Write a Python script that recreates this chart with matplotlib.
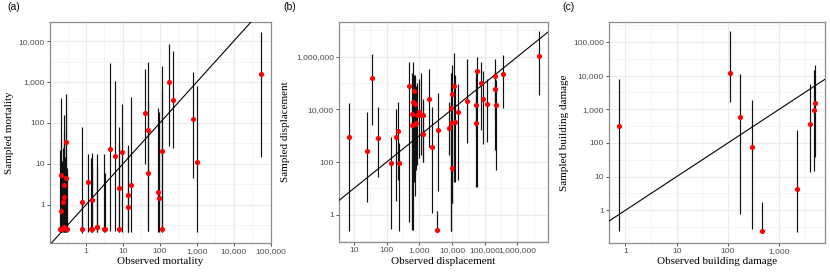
import numpy as np
import matplotlib
matplotlib.use("Agg")
import matplotlib.pyplot as plt
from matplotlib.ticker import FuncFormatter, NullFormatter

# ---------------- Panel (a): mortality ----------------
mort_obs = [0.29, 0.207, 0.28, 0.26, 0.255, 0.245, 0.215, 0.20, 0.23, 0.25, 0.30, 0.27,
            0.76, 0.77, 1.11, 1.48, 1.35, 1.42, 1.95, 2.0, 3.0, 3.3, 4.5, 6.2, 7.8, 7.9,
            9.4, 13.6, 13.9, 17, 39, 48, 49, 90, 94, 111, 112, 180, 220, 790, 1000, 55000]
mort_med = [35, 5.4, 4.6, 3.0, 1.57, 1.18, 0.70, 0.26, 0.26, 0.28, 0.25, 0.27,
            1.18, 0.26, 3.5, 1.3, 0.26, 0.26, 0.28, 0.28, 0.26, 0.26, 23, 15.8, 0.26, 2.6,
            20, 1.73, 0.89, 3.0, 178, 67, 5.9, 2.1, 1.43, 0.25, 20.5, 1020, 363, 126, 11, 1570]
mort_lo = [0.22, 0.22, 0.22, 0.22, 0.22, 0.22, 0.22, 0.22, 0.22, 0.22, 0.22, 0.22,
           0.2, 0.22, 0.22, 0.22, 0.22, 0.22, 0.22, 0.22, 0.22, 0.22, 0.23, 0.23, 0.22, 0.22,
           0.22, 0.22, 0.22, 0.22, 10, 0.23, 0.23, 0.22, 0.22, 0.22, 0.22, 27, 25, 4.4, 0.22, 14.5]
mort_hi = [510, 400, 170, 155, 60, 25, 40, 22, 12, 30, 8, 15,
           81, 1.3, 17, 18, 13.6, 9, 17, 8.8, 17, 6, 2880, 1070, 78, 30,
           290, 29, 25, 440, 2050, 3150, 345, 230, 180, 600, 2450, 8300, 5700, 1780, 800, 17000]

# ---------------- Panel (b): displacement ----------------
disp_obs = [6.9, 25, 36, 53, 136, 197, 224, 245,
            480, 670, 650, 760, 600, 960, 830, 1100, 1320, 815, 600, 720, 1950, 1320,
            3700, 2450, 3560,
            11200, 10000, 9600, 15200, 9600, 12000, 8100, 10000,
            29500, 58000, 55000, 55000, 78000, 89000, 118000, 204000, 208000, 230000,
            357000, 4500000]
disp_med = [870, 263, 152000, 800, 90, 900, 1480, 90,
            77000, 51000, 19500, 15500, 6600, 8200, 6100, 6100, 6100, 3100, 2600, 2700, 25500, 1200,
            1660, 363, 0.27,
            77000, 38000, 11000, 7900, 3100, 3300, 2000, 58,
            20400, 290000, 15000, 3100, 98000, 26000, 16500, 185000, 61000, 15000,
            220000, 1120000]
disp_lo = [0.25, 3.0, 2600, 28, 0.28, 3.4, 21, 0.25,
           0.54, 18, 0.26, 32, 0.26, 138, 77, 185, 102, 50, 0.3, 5, 380, 100,
           8, 1.2, 0.25,
           18, 2.9, 0.25, 21, 0.25, 18, 185, 2.9,
           540, 11.5, 900, 11.5, 1650, 490, 590, 4000, 300, 50,
           11000, 35000]
disp_hi = [17000, 7900, 1260000, 12000, 870, 10000, 20000, 530,
           645000, 200000, 650000, 152000, 234000, 138000, 98000, 234000, 26000, 80000, 20000, 200000, 330000, 20000,
           41000, 12000, 1.4,
           1400000, 500000, 250000, 92000, 100000, 200000, 19500, 3000,
           800000, 950000, 300000, 150000, 630000, 300000, 140000, 850000, 315000, 130000,
           1170000, 9300000]

# ---------------- Panel (c): building damage ----------------
dmg_obs = [0.74, 111, 174, 296, 460, 2230, 4050, 4700, 4900]
dmg_med = [316, 11700, 590, 74, 0.25, 4.3, 370, 970, 1500]
dmg_lo = [0.24, 1600, 0.78, 0.28, 0.24, 0.22, 13.7, 15, 39]
dmg_hi = [7700, 205000, 11000, 1870, 1.73, 250, 5600, 15000, 20000]

# ---------------- Axis settings ----------------
mort_xticks = [1, 10, 100, 1000, 10000, 100000]
mort_yticks = [1, 10, 100, 1000, 10000]
disp_xticks = [10, 100, 1000, 10000, 100000, 1000000]
disp_yticks = [1, 100, 10000, 1000000]
dmg_xticks = [1, 10, 100, 1000]
dmg_yticks = [1, 10, 100, 1000, 10000, 100000]

W, H = 830, 275
fig = plt.figure(figsize=(W / 100, H / 100), dpi=100)

def ax_at(l, r, t, b):
    return fig.add_axes([l / W, 1 - b / H, (r - l) / W, (b - t) / H])

def minors(ticks):
    lt = np.log10(ticks)
    step = lt[1] - lt[0]
    ext = np.concatenate([[lt[0] - step], lt, [lt[-1] + step]])
    mids = (ext[:-1] + ext[1:]) / 2
    return list(10 ** mids)

fmt = FuncFormatter(lambda v, p: f"{v:,.0f}")
sans = ["Liberation Sans", "DejaVu Sans"]
serif = ["Liberation Serif", "DejaVu Serif"]

def style(ax, xt, yt, xlim, ylim):
    ax.set_xscale("log")
    ax.set_yscale("log")
    ax.set_xlim(*xlim)
    ax.set_ylim(*ylim)
    ax.set_xticks(xt)
    ax.set_yticks(yt)
    ax.set_xticks(minors(xt), minor=True)
    ax.set_yticks(minors(yt), minor=True)
    ax.xaxis.set_major_formatter(fmt)
    ax.yaxis.set_major_formatter(fmt)
    ax.xaxis.set_minor_formatter(NullFormatter())
    ax.yaxis.set_minor_formatter(NullFormatter())
    ax.set_xlim(*xlim)
    ax.set_ylim(*ylim)
    ax.grid(True, which="major", color="#EBEBEB", lw=0.9)
    ax.grid(True, which="minor", color="#F3F3F3", lw=0.6)
    ax.set_axisbelow(True)
    ax.tick_params(which="major", length=2.2, width=0.6, color="#333333",
                   labelsize=6.1, labelcolor="#4D4D4D", pad=1.5)
    ax.tick_params(which="minor", length=0)
    for lab in ax.get_xticklabels() + ax.get_yticklabels():
        lab.set_family(sans)
    for s in ax.spines.values():
        s.set_color("#8C8C8C")
        s.set_linewidth(0.9)

def draw(ax, obs, med, lo, hi):
    ax.vlines(obs, lo, hi, colors="#111111", lw=0.85, zorder=2)
    ax.plot([1e-4, 1e9], [1e-4, 1e9], color="black", lw=0.8, zorder=3)
    ax.plot(obs, med, "o", color="red", ms=3.7, mew=0, zorder=4)

axa = ax_at(50, 271, 22, 243)
draw(axa, mort_obs, mort_med, mort_lo, mort_hi)
style(axa, mort_xticks, mort_yticks, (0.106, 1.02e5), (0.116, 2.93e4))

axb = ax_at(339, 548, 22, 242)
draw(axb, disp_obs, disp_med, disp_lo, disp_hi)
style(axb, disp_xticks, disp_yticks, (3.5, 8.7e6), (0.092, 2.1e7))

axc = ax_at(609, 825, 22, 243)
draw(axc, dmg_obs, dmg_med, dmg_lo, dmg_hi)
style(axc, dmg_xticks, dmg_yticks, (0.48, 7800), (0.107, 3.9e5))

def ftext(x, y, s, **kw):
    fig.text(x / W, 1 - y / H, s, **kw)

tk = dict(family=serif, fontsize=8.0, color="black", ha="center", va="center")
ftext(160.5, 261.5, "Observed mortality", **tk)
ftext(443.5, 261.5, "Observed displacement", **tk)
ftext(717, 261.5, "Observed building damage", **tk)
ftext(9.5, 132.5, "Sampled mortality", rotation=90, **tk)
ftext(286, 132, "Sampled displacement", rotation=90, **tk)
ftext(564, 132.5, "Sampled building damage", rotation=90, **tk)

pl = dict(family=sans, fontsize=7.5, color="black", ha="left", va="center")
ftext(7, 7.5, "(a)", **pl)
ftext(283, 7.5, "(b)", **pl)
ftext(562, 7.5, "(c)", **pl)

fig.savefig("out.png", dpi=100)
